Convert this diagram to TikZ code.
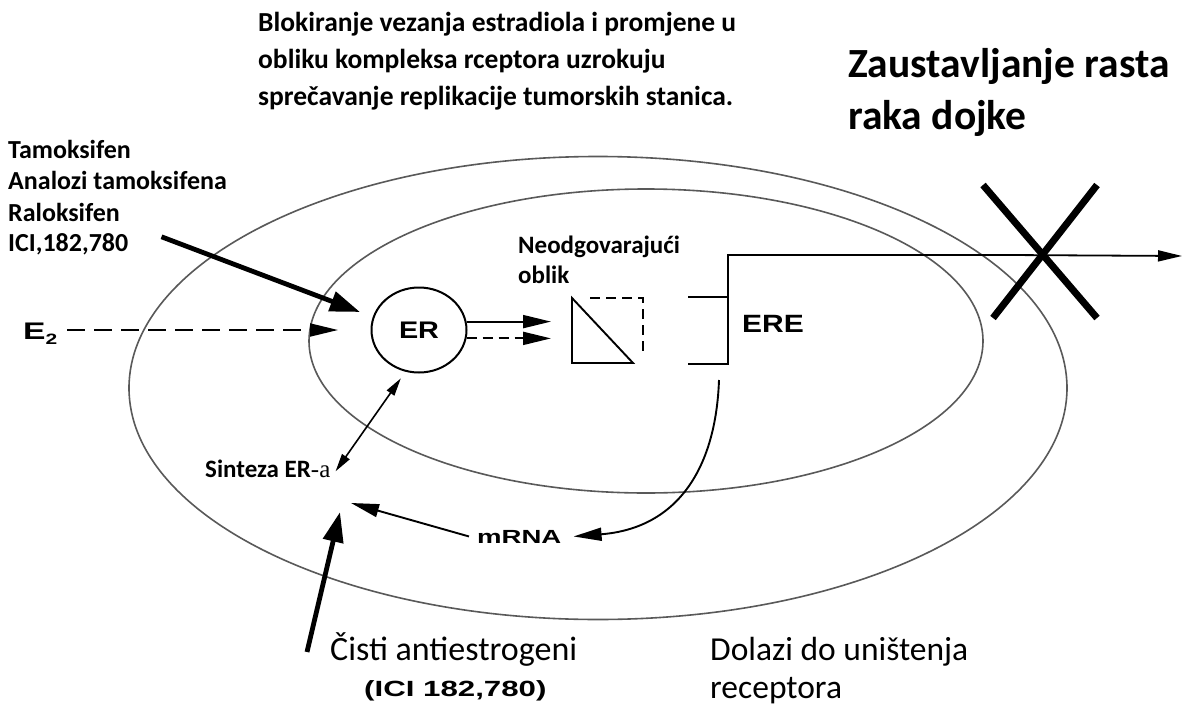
\documentclass[tikz,border=0pt]{standalone}
\usepackage{fontspec}
\usepackage{graphicx}
\setmainfont{Carlito}
\newfontfamily\hel{Liberation Sans}
\newfontfamily\ser{Liberation Serif}
\usetikzlibrary{arrows.meta,shapes.geometric}
\begin{document}
\begin{tikzpicture}[x=1pt,y=-1pt,
  cell/.style={draw=black!65, line width=1.6pt, ellipse, inner sep=0pt},
  lbl/.style={inner sep=0pt, anchor=base west},
  thinline/.style={line width=1.9pt},
  tip/.style={-{Triangle[length=28pt,width=13pt]}},
  bigtip/.style={-{Triangle[length=30pt,width=20pt]}, line width=4.8pt},
  helv/.style={font=\hel\bfseries},
  calb/.style={font=\bfseries},
]
\useasboundingbox (0,0) rectangle (1186,704);
\fill[white] (0,0) rectangle (1186,704);

% cells
\node[cell, minimum width=938pt, minimum height=463pt] (outer) at (598,388) {};
\node[cell, minimum width=674pt, minimum height=304pt] (inner) at (646,341) {};

% top texts
\node[lbl, calb] (t1) at (258,31) {\fontsize{27.5}{27.5}\selectfont Blokiranje vezanja estradiola i promjene u};
\node[lbl, calb] (t2) at (258,68) {\fontsize{27.5}{27.5}\selectfont obliku kompleksa rceptora uzrokuju};
\node[lbl, calb] (t3) at (258,105) {\fontsize{27.5}{27.5}\selectfont sprečavanje replikacije tumorskih stanica.};
\node[lbl, calb] (z1) at (848,77) {\fontsize{41.5}{41.5}\selectfont Zaustavljanje rasta};
\node[lbl, calb] (z2) at (848,129) {\fontsize{41.5}{41.5}\selectfont raka dojke};

% left list
\node[lbl, calb] (l1) at (8,158) {\fontsize{26}{26}\selectfont Tamoksifen};
\node[lbl, calb] (l2) at (8,189) {\fontsize{26}{26}\selectfont Analozi tamoksifena};
\node[lbl, calb] (l3) at (8,221) {\fontsize{26}{26}\selectfont Raloksifen};
\node[lbl, calb] (ici) at (8,251) {\fontsize{26}{26}\selectfont ICI,182,780};

% ER
\node[ellipse, draw, line width=2pt, minimum width=95pt, minimum height=85pt, inner sep=0pt, helv] (er) at (419,330)
  {\fontsize{24}{24}\selectfont\scalebox{1.2}[1]{ER}};

% E2
\node[lbl, helv] (e2) at (23,339) {\fontsize{24}{24}\selectfont\scalebox{1.4}[1]{E\raisebox{-5pt}{\fontsize{15}{15}\selectfont 2}}};
\coordinate (e2end) at (338,330);
\draw[thinline, tip, dash pattern=on 18pt off 9pt, shorten <=10pt] (e2end -| e2.east) -- (e2end);

% Tamoksifen arrow
\coordinate (tamtip) at (360,312);
\draw[bigtip] (ici.east) ++(33,-7) -- (tamtip);

% shape
\coordinate (shapeL) at (551,0);
\draw[thinline, tip] (er.10) -- (er.10 -| shapeL);
\draw[thinline, tip, dash pattern=on 10pt off 6pt] (er.-10) -- (er.-10 -| shapeL);
\node[lbl, calb] (neo1) at (518,253) {\fontsize{25}{25}\selectfont Neodgovarajući};
\node[lbl, calb] (neo2) at (518,283) {\fontsize{25}{25}\selectfont oblik};
\coordinate (trA) at (572,298);
\coordinate (trB) at (572,363);
\coordinate (trC) at (633,363);
\draw[thinline, line join=miter] (trA) -- (trB) -- (trC) -- cycle;
\draw[thinline, dash pattern=on 10pt off 6pt] (590,298) -- (643,298) -- (643,356);

% ERE
\coordinate (ereTop) at (728,255);
\coordinate (ereU) at (688,297);
\coordinate (ereL) at (688,364);
\coordinate (outEnd) at (1182,256);
\draw[line width=2.4pt] (ereU) -- (ereU -| ereTop);
\draw[line width=2.8pt] (ereL) -- (ereL -| ereTop) -- (ereTop) -- (1010,255);
\draw[line width=1.8pt, -{Triangle[length=24pt,width=11pt]}] (1008,255) -- (outEnd);
\node[lbl, helv] (ere) at (742,332) {\fontsize{25}{25}\selectfont\scalebox{1.2}[1]{ERE}};

% X
\coordinate (xa) at (983,185);
\coordinate (xb) at (1097,318);
\coordinate (xc) at (1097,185);
\coordinate (xd) at (993,318);
\draw[line width=7pt] (xa) -- (xb);
\draw[line width=7pt] (xc) -- (xd);

% Sinteza
\node[lbl, calb] (sint) at (205,477) {\fontsize{25}{25}\selectfont Sinteza ER{\ser\mdseries -a}};
\draw[line width=1.6pt, {Triangle[length=18pt,width=9pt]}-{Triangle[length=18pt,width=9pt]}, shorten <=8pt]
  (er.-108) -- ([xshift=5pt,yshift=-3pt]sint.east);

% mRNA
\node[lbl, helv] (mrna) at (477,543) {\fontsize{19}{19}\selectfont\scalebox{1.45}[1]{mRNA}};
\coordinate (ereBot) at (719,380);
\draw[thinline, tip] (ereBot) .. controls (716,465) and (680,528) .. ([xshift=12pt]mrna.east);
\coordinate (synA) at (351,503);
\draw[thinline, tip] ([xshift=-8pt]mrna.west) -- (synA);

% Cisti
\node[lbl] (cisti) at (330,660) {\fontsize{34}{34}\selectfont Čisti antiestrogeni};
\node[lbl, helv] (ici2) at (364,696) {\fontsize{22}{22}\selectfont\scalebox{1.42}[1]{(ICI 182,780)}};
\coordinate (cstart) at (307,652);
\coordinate (synB) at (340,512);
\draw[bigtip] (cstart) -- (synB);

\node[lbl] (dol1) at (710,660) {\fontsize{33.5}{33.5}\selectfont Dolazi do uništenja};
\node[lbl] (dol2) at (710,698) {\fontsize{33.5}{33.5}\selectfont receptora};
\end{tikzpicture}
\end{document}
